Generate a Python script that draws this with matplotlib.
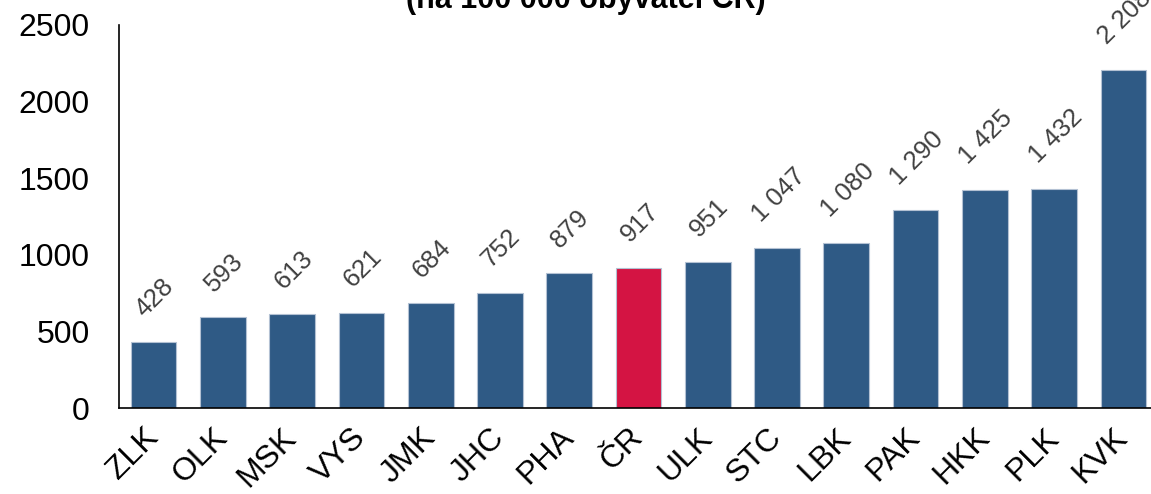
import matplotlib.pyplot as plt
import numpy as np

plt.rcParams["font.family"] = ["Liberation Sans", "DejaVu Sans"]

regions = ["ZLK", "OLK", "MSK", "VYS", "JMK", "JHC", "PHA", "ČR",
           "ULK", "STC", "LBK", "PAK", "HKK", "PLK", "KVK"]
values = [428, 593, 613, 621, 684, 752, 879, 917,
          951, 1047, 1080, 1290, 1425, 1432, 2208]
highlight = "ČR"
title = "(na 100 000 obyvatel ČR)"

blue = "#2F5A85"
red = "#D41443"

fig = plt.figure(figsize=(11.51, 4.94), dpi=100)
ax = fig.add_axes([119 / 1151, 1 - 408 / 494, 1039 / 1151, 383 / 494])

x = np.arange(len(regions))
colors = [red if r == highlight else blue for r in regions]
ax.bar(x, values, width=0.66, color=colors, edgecolor="#B3C1D3", linewidth=0.8)

for xi, v in zip(x, values):
    label = f"{v:,}".replace(",", " ")
    ax.annotate(label, (xi, v), xytext=(1, 15), textcoords="offset points",
                rotation=45, ha="center", va="bottom", fontsize=18.5,
                color="#404040")

ax.set_xlim(-0.5, len(regions) - 0.5)
ax.set_ylim(0, 2500)
ax.set_yticks(range(0, 2501, 500))
ax.set_xticks(x)
ax.set_xticklabels(regions, rotation=45, ha="right", va="center",
                   rotation_mode="anchor")
ax.tick_params(axis="both", length=0, labelsize=23)
ax.tick_params(axis="y", pad=21)
ax.tick_params(axis="x", pad=18)

for side in ["top", "right"]:
    ax.spines[side].set_visible(False)
ax.spines["left"].set_linewidth(1.2)
ax.spines["bottom"].set_linewidth(1.2)

fig.text(0.5 + 10 / 1151, 1 - 8 / 494, title, ha="center", va="baseline",
         fontsize=22, fontweight="bold")

fig.savefig("out.png", dpi=100)
